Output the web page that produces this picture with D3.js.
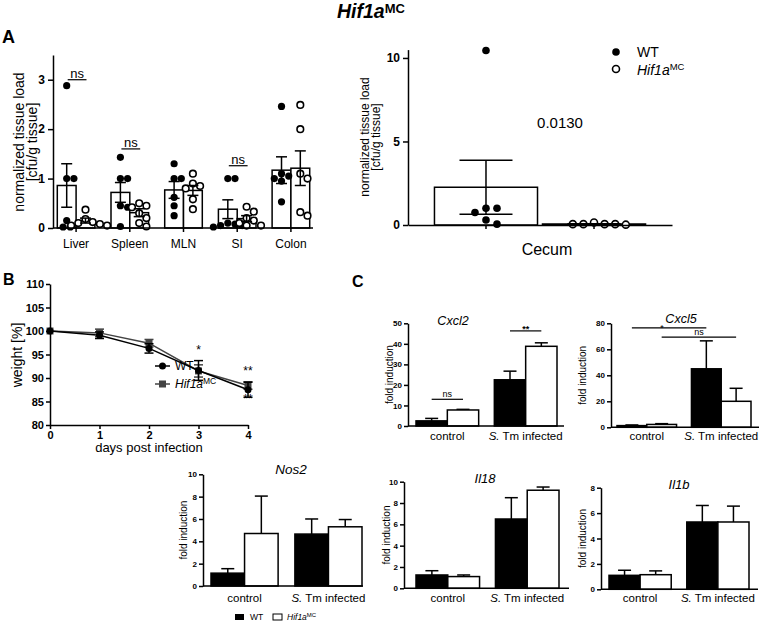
<!DOCTYPE html>
<html><head><meta charset="utf-8">
<script src="https://cdn.jsdelivr.net/npm/d3@7"></script>
<style>body{margin:0;background:#fff}svg{display:block}</style>
</head><body><svg id="c" width="760" height="624"></svg>
<script>
// ---------------- DATA ----------------
// Panel A (left): tissue loads
const tissues = ["Liver","Spleen","MLN","SI","Colon"];
const tissueWTMean = [0.86,0.72,0.77,0.38,1.17];
const tissueWTSem  = [0.44,0.20,0.17,0.19,0.27];
const tissueKOMean = [0.15,0.31,0.76,0.19,1.21];
const tissueKOSem  = [0.05,0.08,0.10,0.06,0.35];
const tissueWTPoints = [[2.88,1.0,1.0,0.15,0.02,0.02],[1.43,1.0,1.0,0.45,0.42,0.03],[1.3,1.0,1.0,0.62,0.45,0.25],[1.0,1.0,0.1,0.08,0.05,0.05,0.02],[2.46,1.1,1.05,1.0,0.95,0.53]];
const tissueKOPoints = [[0.37,0.18,0.12,0.1,0.08,0.05,0.05],[0.5,0.45,0.42,0.3,0.2,0.1,0.03],[1.1,0.9,0.85,0.8,0.58,0.38],[0.43,0.33,0.2,0.15,0.1,0.05,0.05],[2.49,2.0,1.1,1.0,0.32,0.25]];
const tissueTicks = [0,1,2,3];
const sigTissues = ["Liver","Spleen","SI"];
const sigTissueLevel = [3.0,1.6,1.26];
const sigTissueText = ["ns","ns","ns"];
// Panel A (right): cecum
const cecumGroups = ["WT","Hif1aMC"];
const cecumMean = [2.26,0.06];
const cecumSem = [1.62,0.02];
const cecumWTPoints = [10.45,1.0,1.0,0.75,0.3,0.05];
const cecumKOPoints = [0.05,0.05,0.02,0.05,0.05,0.15];
const cecumTicks = [0,5,10];
const cecumP = "0.0130";
// Panel B: weight
const days = [0,1,2,3,4];
const wtWeight = [100,99.1,96.3,91.6,87.5];
const wtWeightSem = [0,0.7,1.0,2.1,1.6];
const koWeight = [100,99.6,97.4,91.5,88.4];
const koWeightSem = [0,0.8,0.8,1.3,0.8];
const weightTicks = [80,85,90,95,100,105,110];
const weightStarsAbove = [{d:3,t:"*",v:96.2},{d:4,t:"**",v:91.8}];
const weightStarsBelow = [{d:4,t:"**",v:85.8}];
// Panel C: qPCR fold induction
const conditions = ["control","S. Tm infected"];
const cxcl2WT=[2.5,22.5], cxcl2WTErr=[1.2,4.2], cxcl2KO=[7.8,38.8], cxcl2KOErr=[0.3,1.7];
const cxcl5WT=[1.3,45], cxcl5WTErr=[0.5,21.5], cxcl5KO=[2.2,20], cxcl5KOErr=[0.6,10];
const nos2WT=[1.15,4.65], nos2WTErr=[0.4,1.35], nos2KO=[4.7,5.3], nos2KOErr=[3.35,0.65];
const il18WT=[1.25,6.5], il18WTErr=[0.4,2.0], il18KO=[1.1,9.2], il18KOErr=[0.15,0.3];
const il1bWT=[1.1,5.3], il1bWTErr=[0.4,1.3], il1bKO=[1.15,5.3], il1bKOErr=[0.3,1.25];

// ---------------- DRAW ----------------
const F = "'Liberation Sans', Arial, Helvetica, sans-serif";
const svg = d3.select("#c").attr("font-family", F);
const SW = 1.5;

function styleAxis(g, fs, bold){
  g.attr("font-family",F).attr("font-size",fs).attr("font-weight",bold?"bold":"normal");
  g.selectAll("path.domain").attr("stroke","#000").attr("stroke-width",SW);
  g.selectAll(".tick line").attr("stroke","#000").attr("stroke-width",SW);
  g.selectAll(".tick text").attr("fill","#000");
}
function swarm(values, cx, yS, minD, step){
  const placed=[];
  const order=values.slice().sort((a,b)=>b-a);
  for(const v of order){
    const py=yS(v);
    const cand=[0];
    for(let s=1;s<30;s++){cand.push(s*step,-s*step);}
    let px=cx;
    for(const dx of cand){
      if(placed.every(q=>Math.hypot(q.x-(cx+dx),q.y-py)>=minD)){px=cx+dx;break;}
    }
    placed.push({x:px,y:py});
  }
  return placed;
}
function supText(sel, x, y, main, sup, fs, sfs, opts){
  const t=sel.append("text").attr("x",x).attr("y",y).attr("font-size",fs).attr("fill","#000");
  if(opts&&opts.bold) t.attr("font-weight","bold");
  if(opts&&opts.anchor) t.attr("text-anchor",opts.anchor);
  t.append("tspan").attr("font-style","italic").text(main);
  t.append("tspan").attr("font-size",sfs).attr("dy",-(fs*(opts&&opts.shift||0.33))).text(sup);
  return t;
}

// Title
supText(svg,337,18,"Hif1a","MC",19.5,13,{bold:true,shift:0.27});

// Panel letters
[["A",2,43,18],["B",3,285,16],["C",352,287,16]].forEach(d=>{
  svg.append("text").attr("x",d[1]).attr("y",d[2]).attr("font-size",d[3]).attr("font-weight","bold").text(d[0]);
});

// ===== Panel A left =====
(function(){
  const g=svg.append("g");
  const x=d3.scaleBand().domain(tissues).range([53,314]).paddingInner(0.3).paddingOuter(0.08);
  const y=d3.scaleLinear().domain([0,3.5]).range([228,55]);
  const bw=x.bandwidth()/2;
  tissues.forEach((t,i)=>{
    [[tissueWTMean[i],0],[tissueKOMean[i],bw]].forEach(([m,off])=>{
      g.append("rect").attr("x",x(t)+off).attr("y",y(m)).attr("width",bw).attr("height",y(0)-y(m))
        .attr("fill","#fff").attr("stroke","#000").attr("stroke-width",SW);
    });
  });
  tissues.forEach((t,i)=>{
    swarm(tissueWTPoints[i], x(t)+bw/2, y, 6.6, 3.6).forEach(p=>{
      g.append("circle").attr("cx",p.x).attr("cy",p.y).attr("r",3.6).attr("fill","#000");
    });
    swarm(tissueKOPoints[i], x(t)+bw*1.5, y, 6.6, 3.6).forEach(p=>{
      g.append("circle").attr("cx",p.x).attr("cy",p.y).attr("r",3.3).attr("fill","#fff").attr("stroke","#000").attr("stroke-width",1.6);
    });
  });
  tissues.forEach((t,i)=>{
    [[tissueWTMean[i],tissueWTSem[i],0.5],[tissueKOMean[i],tissueKOSem[i],1.5]].forEach(([m,s,f])=>{
      const cx=x(t)+bw*f, lo=Math.max(0,m-s);
      g.append("line").attr("x1",cx).attr("x2",cx).attr("y1",y(lo)).attr("y2",y(m+s)).attr("stroke","#000").attr("stroke-width",SW);
      [lo,m+s].forEach(v=>g.append("line").attr("x1",cx-5.5).attr("x2",cx+5.5).attr("y1",y(v)).attr("y2",y(v)).attr("stroke","#000").attr("stroke-width",SW));
    });
  });
  const ya=g.append("g").attr("transform","translate(53,0)").call(d3.axisLeft(y).tickValues(tissueTicks).tickFormat(d3.format("d")).tickSize(5).tickSizeOuter(0).tickPadding(3));
  styleAxis(ya,12,true);
  const xa=g.append("g").attr("transform","translate(0,228)").call(d3.axisBottom(x).tickSize(4).tickSizeOuter(0).tickPadding(5));
  styleAxis(xa,12,false);
  xa.selectAll("path.domain").attr("d","M53,0H313");
  xa.selectAll(".tick text").attr("dy","0.9em");
  sigTissues.forEach((t,i)=>{
    const yy=y(sigTissueLevel[i]);
    g.append("line").attr("x1",x(t)+bw*0.5+1).attr("x2",x(t)+bw*1.5+1).attr("y1",yy).attr("y2",yy).attr("stroke","#000").attr("stroke-width",1.2);
    g.append("text").attr("x",x(t)+bw+1).attr("y",yy-2).attr("text-anchor","middle").attr("font-size",13).text(sigTissueText[i]);
  });
  const yl=g.append("text").attr("transform","translate(24,142) rotate(-90)").attr("text-anchor","middle").attr("font-size",14);
  yl.append("tspan").attr("x",0).attr("y",0).text("normalized tissue load");
  yl.append("tspan").attr("x",0).attr("y",13).text("[cfu/g tissue]");
})();

// ===== Panel A right (cecum) =====
(function(){
  const g=svg.append("g");
  const x=d3.scaleBand().domain(cecumGroups).range([408,672]).paddingInner(0.046).paddingOuter(0.245);
  const y=d3.scaleLinear().domain([0,10.5]).range([225,49.6]);
  cecumGroups.forEach((k,i)=>{
    g.append("rect").attr("x",x(k)).attr("y",y(cecumMean[i])).attr("width",x.bandwidth()).attr("height",y(0)-y(cecumMean[i]))
      .attr("fill","#fff").attr("stroke","#000").attr("stroke-width",SW);
  });
  const cw=x(cecumGroups[0])+x.bandwidth()/2, ck=x(cecumGroups[1])+x.bandwidth()/2;
  swarm(cecumWTPoints,cw,y,7.0,5.5).forEach(p=>g.append("circle").attr("cx",p.x).attr("cy",p.y).attr("r",3.8).attr("fill","#000"));
  swarm(cecumKOPoints,ck,y,10,5.3).forEach(p=>g.append("circle").attr("cx",p.x).attr("cy",p.y).attr("r",3.5).attr("fill","#fff").attr("stroke","#000").attr("stroke-width",1.6));
  cecumGroups.forEach((k,i)=>{
    const cx=x(k)+x.bandwidth()/2, m=cecumMean[i], s=cecumSem[i];
    g.append("line").attr("x1",cx).attr("x2",cx).attr("y1",y(m-s)).attr("y2",y(m+s)).attr("stroke","#000").attr("stroke-width",SW);
    [m-s,m+s].forEach(v=>g.append("line").attr("x1",cx-26.5).attr("x2",cx+26.5).attr("y1",y(v)).attr("y2",y(v)).attr("stroke","#000").attr("stroke-width",SW));
  });
  const ya=g.append("g").attr("transform","translate(408,0)").call(d3.axisLeft(y).tickValues(cecumTicks).tickFormat(d3.format("d")).tickSize(5).tickSizeOuter(0).tickPadding(3));
  styleAxis(ya,12,true);
  const xa=g.append("g").attr("transform","translate(0,225)").call(d3.axisBottom(x).tickSize(4).tickSizeOuter(0).tickFormat(""));
  styleAxis(xa,12,false);
  g.append("text").attr("x",547).attr("y",255).attr("text-anchor","middle").attr("font-size",16).text("Cecum");
  g.append("text").attr("x",560).attr("y",128).attr("text-anchor","middle").attr("font-size",15).text(cecumP);
  const yl=g.append("text").attr("transform","translate(369,137) rotate(-90)").attr("text-anchor","middle").attr("font-size",12);
  yl.append("tspan").attr("x",0).attr("y",0).text("normalized tissue load");
  yl.append("tspan").attr("x",0).attr("y",11).text("[cfu/g tissue]");
  // legend
  g.append("circle").attr("cx",616).attr("cy",52).attr("r",3.8).attr("fill","#000");
  g.append("circle").attr("cx",616).attr("cy",69).attr("r",3.5).attr("fill","#fff").attr("stroke","#000").attr("stroke-width",1.6);
  g.append("text").attr("x",637).attr("y",57).attr("font-size",14).text("WT");
  supText(g,637,75,"Hif1a","MC",14,9.5);
})();

// ===== Panel B =====
(function(){
  const g=svg.append("g");
  const x=d3.scaleLinear().domain([0,4]).range([50,248]);
  const y=d3.scaleLinear().domain([80,110]).range([425,284]);
  const series=[{v:koWeight,e:koWeightSem,c:"#444",sq:true},{v:wtWeight,e:wtWeightSem,c:"#000",sq:false}];
  series.forEach(s=>{
    g.append("path").datum(days).attr("fill","none").attr("stroke",s.c).attr("stroke-width",SW)
      .attr("d",d3.line().x(d=>x(d)).y((d,i)=>y(s.v[i])));
    days.forEach((d,i)=>{
      if(s.e[i]>0){
        const cx=x(d);
        g.append("line").attr("x1",cx).attr("x2",cx).attr("y1",y(s.v[i]-s.e[i])).attr("y2",y(s.v[i]+s.e[i])).attr("stroke",s.c).attr("stroke-width",SW);
        [s.v[i]-s.e[i],s.v[i]+s.e[i]].forEach(v=>g.append("line").attr("x1",cx-4.5).attr("x2",cx+4.5).attr("y1",y(v)).attr("y2",y(v)).attr("stroke",s.c).attr("stroke-width",SW));
      }
      if(s.sq) g.append("rect").attr("x",x(d)-3.5).attr("y",y(s.v[i])-3.5).attr("width",7).attr("height",7).attr("fill",s.c);
      else g.append("circle").attr("cx",x(d)).attr("cy",y(s.v[i])).attr("r",3.5).attr("fill",s.c);
    });
  });
  const ya=g.append("g").attr("transform","translate(50,0)").call(d3.axisLeft(y).tickValues(weightTicks).tickSize(4).tickSizeOuter(0).tickPadding(2));
  styleAxis(ya,11,true);
  const xa=g.append("g").attr("transform","translate(0,425)").call(d3.axisBottom(x).tickValues(days).tickFormat(d3.format("d")).tickSize(4).tickSizeOuter(0).tickPadding(2));
  styleAxis(xa,11,true);
  g.append("text").attr("transform","translate(22,355) rotate(-90)").attr("text-anchor","middle").attr("font-size",14).text("weight [%]");
  g.append("text").attr("x",149).attr("y",452).attr("text-anchor","middle").attr("font-size",13).text("days post infection");
  weightStarsAbove.concat(weightStarsBelow).forEach(s=>{
    g.append("text").attr("x",x(s.d)).attr("y",y(s.v)+5).attr("text-anchor","middle").attr("font-size",12).text(s.t);
  });
  // legend
  [[366,"#000",false],[384,"#444",true]].forEach(([ly,c,sq])=>{
    g.append("line").attr("x1",155).attr("x2",170).attr("y1",ly).attr("y2",ly).attr("stroke",c).attr("stroke-width",SW);
    if(sq) g.append("rect").attr("x",159).attr("y",ly-3.5).attr("width",7).attr("height",7).attr("fill",c);
    else g.append("circle").attr("cx",162.5).attr("cy",ly).attr("r",3.5).attr("fill",c);
  });
  g.append("text").attr("x",175).attr("y",370).attr("font-size",12).text("WT");
  supText(g,175,388,"Hif1a","MC",12,8.5);
})();

// ===== Panel C =====
const geneCharts=[
  {title:"Cxcl2",wt:cxcl2WT,wtE:cxcl2WTErr,ko:cxcl2KO,koE:cxcl2KOErr,max:50,step:10,x0:408,x1:564,y0:426,yTop:323.3,L:416,R:557,tx:453,ty:325,tfs:12.5,ylx:393,xly:440,
   sig:[{g:0,v:13,t:"ns",fs:9},{g:1,v:46.3,t:"**",fs:9}]},
  {title:"Cxcl5",wt:cxcl5WT,wtE:cxcl5WTErr,ko:cxcl5KO,koE:cxcl5KOErr,max:80,step:20,x0:611,x1:759,y0:427.3,yTop:323.3,L:617,R:751,tx:681,ty:322.5,tfs:12.5,ylx:586,xly:440,
   sig:[]},
  {title:"Nos2",wt:nos2WT,wtE:nos2WTErr,ko:nos2KO,koE:nos2KOErr,max:10,step:2,x0:203,x1:363,y0:586,yTop:474.3,L:211,R:362,tx:291,ty:474,tfs:13.5,ylx:187,xly:602,sig:[]},
  {title:"Il18",wt:il18WT,wtE:il18WTErr,ko:il18KO,koE:il18KOErr,max:10,step:2,x0:404,x1:569,y0:588.3,yTop:481.7,L:416,R:559,tx:485,ty:483,tfs:13,ylx:390,xly:602,sig:[]},
  {title:"Il1b",wt:il1bWT,wtE:il1bWTErr,ko:il1bKO,koE:il1bKOErr,max:8,step:2,x0:601,x1:758,y0:589.3,yTop:487.7,L:609,R:749,tx:679,ty:489,tfs:13,ylx:586,xly:602,sig:[]}
];
geneCharts.forEach(cfg=>{
  const g=svg.append("g");
  const x=d3.scaleBand().domain(conditions).range([cfg.L,cfg.R]).paddingInner(0.2).paddingOuter(0);
  const y=d3.scaleLinear().domain([0,cfg.max]).range([cfg.y0,cfg.yTop]);
  const bw=x.bandwidth()/2;
  conditions.forEach((c,i)=>{
    [[cfg.wt[i],cfg.wtE[i],0,"#000"],[cfg.ko[i],cfg.koE[i],bw,"#fff"]].forEach(([m,e,off,fill])=>{
      const cx=x(c)+off+bw/2;
      g.append("line").attr("x1",cx).attr("x2",cx).attr("y1",y(m)).attr("y2",y(m+e)).attr("stroke","#000").attr("stroke-width",SW);
      g.append("line").attr("x1",cx-6.5).attr("x2",cx+6.5).attr("y1",y(m+e)).attr("y2",y(m+e)).attr("stroke","#000").attr("stroke-width",SW);
      g.append("rect").attr("x",x(c)+off).attr("y",y(m)).attr("width",bw).attr("height",y(0)-y(m)).attr("fill",fill).attr("stroke","#000").attr("stroke-width",SW);
    });
  });
  const ya=g.append("g").attr("transform",`translate(${cfg.x0},0)`).call(d3.axisLeft(y).tickValues(d3.range(0,cfg.max+1e-9,cfg.step)).tickSize(4).tickSizeOuter(0).tickPadding(2));
  styleAxis(ya,8,true);
  g.append("line").attr("x1",cfg.x0).attr("x2",cfg.x1).attr("y1",cfg.y0).attr("y2",cfg.y0).attr("stroke","#000").attr("stroke-width",SW);
  conditions.forEach(c=>{
    const t=g.append("text").attr("x",x(c)+bw).attr("y",cfg.xly).attr("text-anchor","middle").attr("font-size",11.5);
    if(c.startsWith("S. ")){t.append("tspan").attr("font-style","italic").text("S.");t.append("tspan").text(c.slice(2));}
    else t.text(c);
  });
  g.append("text").attr("x",cfg.tx).attr("y",cfg.ty).attr("text-anchor","middle").attr("font-style","italic").attr("font-size",cfg.tfs).text(cfg.title);
  g.append("text").attr("transform",`translate(${cfg.ylx},${(cfg.y0+cfg.yTop)/2}) rotate(-90)`).attr("text-anchor","middle").attr("font-size",10).text("fold induction");
  cfg.sig.forEach(s=>{
    const c=conditions[s.g];
    const xa=x(c)+bw*0.5, xb=x(c)+bw*1.5, yy=y(s.v);
    g.append("line").attr("x1",xa).attr("x2",xb).attr("y1",yy).attr("y2",yy).attr("stroke","#000").attr("stroke-width",1.2);
    g.append("text").attr("x",(xa+xb)/2).attr("y",s.t==="ns"?yy-2:yy+1.5).attr("text-anchor","middle").attr("font-size",s.fs).attr("font-weight",s.t==="ns"?"normal":"bold").text(s.t);
  });
  cfg.chart={x,y,bw,g};
});
// Cxcl5 cross-group comparisons
(function(){
  const c=geneCharts[1].chart;
  const wtCtrl=c.x(conditions[0])+c.bw*0.5, koCtrl=c.x(conditions[0])+c.bw*1.5;
  const wtInf=c.x(conditions[1])+c.bw*0.5, koInf=c.x(conditions[1])+c.bw*1.5;
  const lines=[{a:wtCtrl,b:wtInf,v:76.5,t:"*",dx:-7},{a:koCtrl,b:koInf,v:69.3,t:"ns",dx:0}];
  lines.forEach(l=>{
    const yy=c.y(l.v);
    c.g.append("line").attr("x1",l.a).attr("x2",l.b).attr("y1",yy).attr("y2",yy).attr("stroke","#000").attr("stroke-width",1.2);
    c.g.append("text").attr("x",(l.a+l.b)/2+l.dx).attr("y",l.t==="ns"?yy-2:yy+3).attr("text-anchor","middle").attr("font-size",9).text(l.t);
  });
})();
// Panel C legend
svg.append("rect").attr("x",235).attr("y",614).attr("width",9).attr("height",6).attr("fill","#000");
svg.append("text").attr("x",250).attr("y",620).attr("font-size",8.5).text("WT");
svg.append("rect").attr("x",273).attr("y",614).attr("width",9).attr("height",6).attr("fill","#fff").attr("stroke","#000").attr("stroke-width",1);
supText(svg,287,620,"Hif1a","MC",8.5,6);
</script></body></html>
